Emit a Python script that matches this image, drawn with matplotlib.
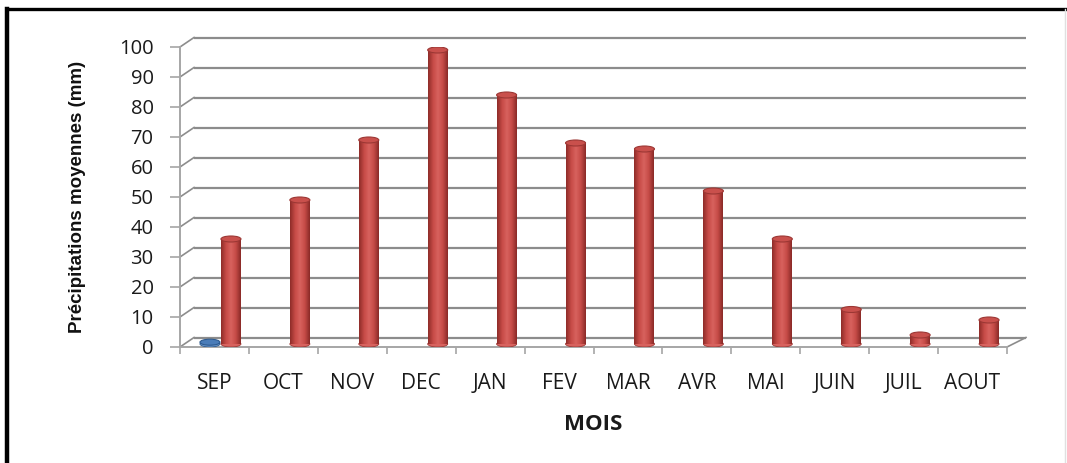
import matplotlib
matplotlib.use('Agg')
import matplotlib.pyplot as plt
from matplotlib.patches import Ellipse
from matplotlib.lines import Line2D
from matplotlib.colors import LinearSegmentedColormap
import numpy as np

# ---- data ----
mois = ['SEP', 'OCT', 'NOV', 'DEC', 'JAN', 'FEV', 'MAR', 'AVR', 'MAI', 'JUIN', 'JUIL', 'AOUT']
precip = [35, 48, 68, 98, 83, 67, 65, 51, 35, 11.5, 3, 8]
serie_bleue = [0.6, 0, 0, 0, 0, 0, 0, 0, 0, 0, 0, 0]
y_ticks = [0, 10, 20, 30, 40, 50, 60, 70, 80, 90, 100]

W, H = 1067, 463
fig = plt.figure(figsize=(W / 100, H / 100), dpi=100)
fig.patch.set_facecolor('white')

# front frame of the pseudo-3D plot
L, R, B, T = 180, 1007, 347, 47
ax = fig.add_axes([L / W, (H - B) / H, (R - L) / W, (B - T) / H])
n = len(mois)
ax.set_xlim(-0.5, n - 0.5)
ax.set_ylim(0, 100)
ax.set_facecolor('none')

px_x = (n) / (R - L)       # data units per pixel (x)
px_y = 100 / (B - T)       # data units per pixel (y)
DX, DY = 14 * px_x, 9.5 * px_y   # depth offset (back wall)

grid_col = '#8c8c8c'
glw = 1.6

# back wall gridlines + diagonals
for v in y_ticks:
    ax.plot([-0.5 + DX, n - 0.5 + DX + 5 * px_x], [v + DY, v + DY], color=grid_col, lw=glw,
            solid_capstyle='butt', clip_on=False, zorder=1)
    ax.plot([-0.5, -0.5 + DX], [v, v + DY], color=grid_col, lw=1.2, clip_on=False, zorder=1)
# right floor diagonal
ax.plot([n - 0.5, n - 0.5 + DX + 5 * px_x], [0, DY], color=grid_col, lw=1.2, clip_on=False, zorder=1)

# spines / ticks
for s in ['top', 'right']:
    ax.spines[s].set_visible(False)
for s in ['left', 'bottom']:
    ax.spines[s].set_color('#a6a6a6')
    ax.spines[s].set_linewidth(1.4)

ax.set_yticks(y_ticks)
ax.set_yticklabels([str(v) for v in y_ticks])
ax.tick_params(axis='y', length=7, width=1.2, color='#a6a6a6', pad=12,
               labelsize=14.5, labelcolor='#1a1a1a')
ax.set_xticks(np.arange(-0.5, n, 1.0))
ax.set_xticklabels([])
ax.tick_params(axis='x', which='major', length=5, width=1.2, color='#a6a6a6')
ax.set_xticks(np.arange(n), minor=True)
ax.set_xticklabels(mois, minor=True)
ax.tick_params(axis='x', which='minor', length=0, pad=19, labelsize=15, labelcolor='#1a1a1a')
for lab in ax.get_yticklabels() + ax.get_xticklabels(minor=True):
    lab.set_family('Open Sans')

# cylinders
BX = 16.5 * px_x
BY = 3 * px_y
bw = 20 * px_x
eh = 6 * px_y
cmap_red = LinearSegmentedColormap.from_list('r', ['#8e2c29', '#c64a46', '#d8625e', '#c54b47', '#8a2a27'])
cmap_blue = LinearSegmentedColormap.from_list('b', ['#2d5a8f', '#4f81bd', '#6d9ad0', '#4f81bd', '#2d5a8f'])
grad = np.linspace(0, 1, 64).reshape(1, -1)


def cylinder(xc, v, cmap, top_fc, top_ec):
    bars = ax.bar([xc], [v], bottom=BY, width=bw, color='none', edgecolor='none', zorder=3)
    patch = bars.patches[0]
    ax.add_patch(Ellipse((xc, BY), bw, eh, facecolor=cmap(0.5), edgecolor=top_ec, lw=0.6, zorder=2.9))
    im = ax.imshow(grad, cmap=cmap, extent=(xc - bw / 2, xc + bw / 2, BY, BY + v),
                   aspect='auto', zorder=3, interpolation='bilinear')
    im.set_clip_path(patch)
    ax.add_patch(Ellipse((xc, BY + v), bw, eh, facecolor=top_fc, edgecolor=top_ec, lw=0.8, zorder=3.1))


for i, v in enumerate(serie_bleue):
    if v > 0:
        cylinder(i - 4.5 * px_x, v, cmap_blue, '#4a7cb8', '#2d5a8f')
for i, v in enumerate(precip):
    cylinder(i + BX, v, cmap_red, '#c9504c', '#9c3734')

ax.set_xlim(-0.5, n - 0.5)
ax.set_ylim(0, 100)
ax.set_aspect('auto')

# axis titles
ax.set_ylabel('Précipitations moyennes (mm)', family='Liberation Sans',
              fontweight='bold', fontsize=13.5, color='#111111')
ax.yaxis.set_label_coords((78 - L) / (R - L), (B - 197) / (B - T))
ax.set_xlabel('MOIS', family='Open Sans', fontweight='bold', fontsize=16, color='#1a1a1a')
ax.xaxis.set_label_coords((593 - L) / (R - L), (B - 425) / (B - T))
ax.xaxis.label.set_va('center')
ax.yaxis.label.set_va('center')

# outer frame of the picture
fig.add_artist(Line2D([7 / W, 7 / W], [0, (H - 9) / H], color='black', lw=3.2))
fig.add_artist(Line2D([7 / W, 1], [(H - 9) / H, (H - 9) / H], color='black', lw=2.4))
fig.add_artist(Line2D([1065 / W, 1065 / W], [0, (H - 9) / H], color='#e0e0e0', lw=1.0))

fig.savefig('out.png', dpi=100, facecolor='white')
